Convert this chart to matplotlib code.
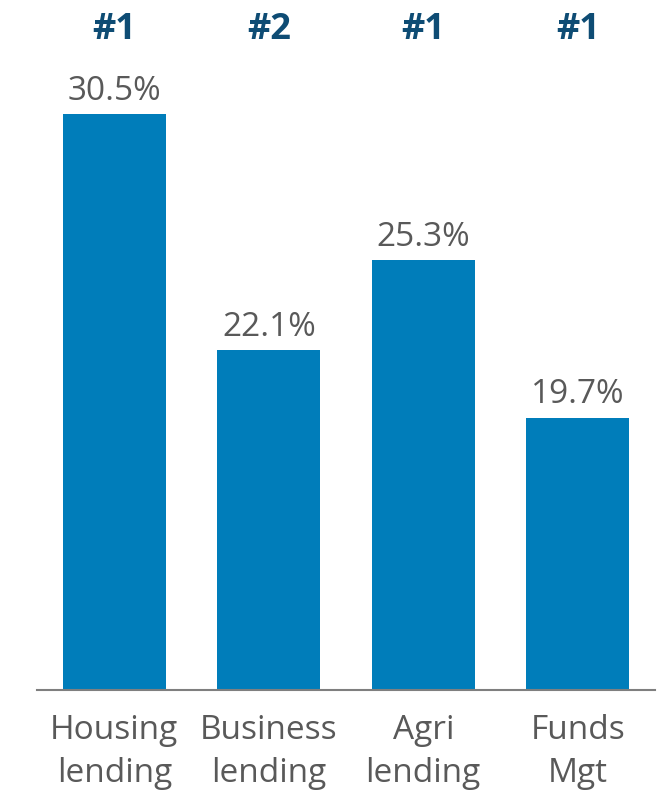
import matplotlib
matplotlib.use("Agg")
import matplotlib.pyplot as plt

categories = ["Housing\nlending", "Business\nlending", "Agri\nlending", "Funds\nMgt"]
shares = [30.5, 22.1, 25.3, 19.7]
ranks = ["#1", "#2", "#1", "#1"]

plt.rcParams['font.family'] = ['Open Sans', 'DejaVu Sans']

fig = plt.figure(figsize=(6.62, 7.94), dpi=100)
# axes box in pixels: left 37, right 655, bottom 690 (from top), top 72
ax = fig.add_axes([37/662, (794-690)/794, (655-37)/662, (690-72)/794])

x = list(range(len(categories)))
ax.bar(x, [s - 10 for s in shares], bottom=10, width=0.667, color="#007DBA")
ax.set_xlim(-0.5, 3.5)
ax.set_ylim(10, 32)

for xi, s in zip(x, shares):
    ax.text(xi, s + 0.22, "{:.1f}%".format(s), ha="center", va="bottom",
            fontsize=24, color="#595959")

for xi, r in zip(x, ranks):
    ax.text(xi, 1.0 + 42/618, r, ha="center", va="center", fontsize=26,
            fontweight="bold", color="#0E4C74",
            transform=ax.get_xaxis_transform(), clip_on=False)

ax.set_xticks(x)
ax.set_xticklabels(categories, fontsize=24, color="#595959", linespacing=1.42)
ax.tick_params(axis="x", length=0, pad=17)
ax.set_yticks([])
for side in ["left", "right", "top"]:
    ax.spines[side].set_visible(False)
ax.spines["bottom"].set_color("#7f7f7f")
ax.spines["bottom"].set_linewidth(1.5)

fig.savefig("out.png", dpi=100)
